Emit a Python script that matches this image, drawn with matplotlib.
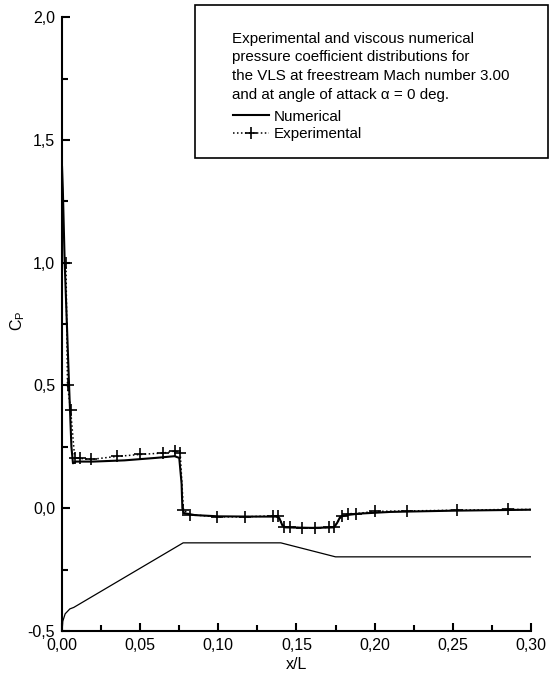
import matplotlib
matplotlib.use("Agg")
import matplotlib.pyplot as plt
import numpy as np
from matplotlib.ticker import MultipleLocator, FuncFormatter
from matplotlib.lines import Line2D
from matplotlib.patches import Rectangle

plt.rcParams['font.family'] = ['Liberation Sans', 'DejaVu Sans']
plt.rcParams['mathtext.fontset'] = 'custom'
plt.rcParams['mathtext.rm'] = 'Liberation Sans'
plt.rcParams['mathtext.it'] = 'Liberation Sans'

# viscous numerical solution
num_x = [0.0, 0.0005, 0.0017, 0.0045, 0.006, 0.007, 0.009, 0.02, 0.04, 0.06,
         0.072, 0.075, 0.0765, 0.077, 0.078, 0.085, 0.10, 0.12, 0.137, 0.139,
         0.141, 0.143, 0.16, 0.174, 0.176, 0.178, 0.182, 0.19, 0.21, 0.25, 0.30]
num_cp = [1.39, 1.30, 1.0, 0.5, 0.25, 0.183, 0.19, 0.19, 0.195, 0.205,
          0.212, 0.205, 0.10, 0.0, -0.02, -0.028, -0.033, -0.034, -0.034, -0.04,
          -0.07, -0.078, -0.08, -0.078, -0.06, -0.035, -0.028, -0.022, -0.015, -0.01, -0.006]

# wind tunnel measurements
exp_x = [0.0025, 0.0035, 0.0055, 0.0081, 0.0114, 0.0188, 0.0349, 0.0499, 0.0649,
         0.0724, 0.0756, 0.0777, 0.082, 0.099, 0.117, 0.135, 0.138, 0.142, 0.1456,
         0.1537, 0.162, 0.171, 0.174, 0.179, 0.183, 0.188, 0.200, 0.221, 0.253,
         0.2854, 0.30]
exp_cp = [1.0, 0.5, 0.40, 0.204, 0.203, 0.199, 0.211, 0.219, 0.225,
          0.233, 0.226, -0.008, -0.026, -0.035, -0.035, -0.031, -0.033, -0.076, -0.077,
          -0.080, -0.080, -0.078, -0.077, -0.033, -0.022, -0.022, -0.013, -0.011, -0.008,
          -0.005, -0.005]

# vehicle contour (scaled)
body_x = [0.0, 0.0005, 0.002, 0.005, 0.0075, 0.0775, 0.140, 0.175, 0.30]
body_y = [-0.5, -0.46, -0.43, -0.41, -0.404, -0.141, -0.141, -0.198, -0.198]

fig = plt.figure(figsize=(5.49, 6.79), dpi=100)
ax = fig.add_axes([0.113, 0.0707, 0.854, 0.904])

ax.plot(body_x, body_y, color='black', lw=0.9)
ax.plot(num_x, num_cp, color='black', lw=1.5)
ax.plot(exp_x, exp_cp, color='black', lw=1.1, linestyle=(0, (1, 1.6)),
        marker='+', markersize=8, mew=1.2, markevery=list(range(len(exp_x) - 1)))

ax.set_xlim(0, 0.30)
ax.set_ylim(-0.5, 2.0)
ax.xaxis.set_major_locator(MultipleLocator(0.05))
ax.xaxis.set_minor_locator(MultipleLocator(0.025))
ax.yaxis.set_major_locator(MultipleLocator(0.5))
ax.yaxis.set_minor_locator(MultipleLocator(0.25))
ax.xaxis.set_major_formatter(FuncFormatter(lambda v, p: ('%.2f' % v).replace('.', ',')))
ax.yaxis.set_major_formatter(FuncFormatter(lambda v, p: ('%.1f' % v).replace('.', ',')))

for s in ['top', 'right']:
    ax.spines[s].set_visible(False)
for s in ['left', 'bottom']:
    ax.spines[s].set_linewidth(1.5)
ax.tick_params(which='major', direction='in', length=6, width=1.5, labelsize=11.5, pad=5)
ax.tick_params(which='minor', direction='in', length=4, width=1.5)

ax.set_xlabel('x/L', fontsize=11.5)
ax.xaxis.set_label_coords(0.5, -0.042)
ax.set_ylabel(r'C$_\mathrm{P}$', fontsize=11.5)
ax.yaxis.set_label_coords(-0.075, 0.505)

# caption box
fig.patches.append(Rectangle((195 / 549, 1 - 158 / 679), 353 / 549, 153 / 679,
                             transform=fig.transFigure, fill=False, ec='black', lw=1.2))
caption = ['Experimental and viscous numerical',
           'pressure coefficient distributions for',
           'the VLS at freestream Mach number 3.00',
           'and at angle of attack \u03b1 = 0 deg.']
for i, line in enumerate(caption):
    fig.text(232 / 549, 1 - (39 + 18.5 * i) / 679, line, fontsize=10.9, va='center')

handles = [Line2D([], [], color='black', lw=1.5),
           Line2D([], [], color='black', lw=1.1, linestyle=(0, (1, 1.6)),
                  marker='+', markersize=8, mew=1.2)]
fig.legend(handles, ['Numerical', 'Experimental'], loc='upper left',
           bbox_to_anchor=(225 / 549, 1 - 102 / 679), frameon=False, fontsize=10.9,
           handlelength=2.4, handletextpad=0.3, labelspacing=0.25, borderpad=0)

fig.savefig('out.png', dpi=100)
